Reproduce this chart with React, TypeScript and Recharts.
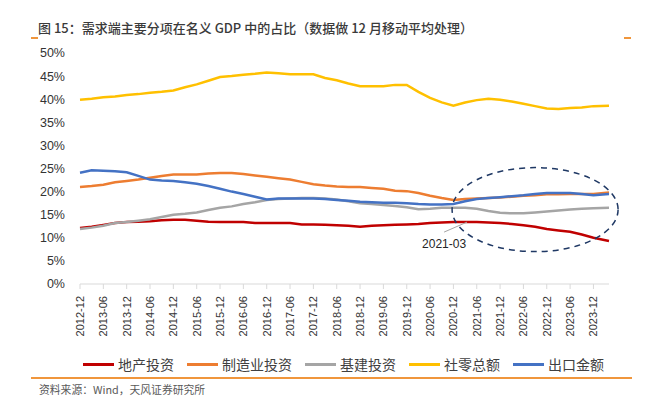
import React from 'react';
import { LineChart, Line, XAxis, YAxis, ReferenceDot } from 'recharts';

// sampled points (12-month moving average), values in %
const periods = [
  '2012-12', '2013-03', '2013-06', '2013-09', '2013-12', '2014-03', '2014-06', '2014-09',
  '2014-12', '2015-03', '2015-06', '2015-09', '2015-12', '2016-03', '2016-06', '2016-09',
  '2016-12', '2017-03', '2017-06', '2017-09', '2017-12', '2018-03', '2018-06', '2018-09',
  '2018-12', '2019-03', '2019-06', '2019-09', '2019-12', '2020-03', '2020-06', '2020-09',
  '2020-12', '2021-03', '2021-06', '2021-09', '2021-12', '2022-03', '2022-06', '2022-09',
  '2022-12', '2023-03', '2023-06', '2023-09', '2023-12', '2024-04',
];

const property = [
  12.1, 12.4, 12.8, 13.2, 13.4, 13.5, 13.6, 13.8, 13.9, 13.9, 13.7, 13.5, 13.4, 13.4, 13.4, 13.2,
  13.2, 13.2, 13.2, 12.9, 12.9, 12.8, 12.7, 12.6, 12.4, 12.6, 12.7, 12.8, 12.9, 13.0, 13.2, 13.3,
  13.4, 13.4, 13.4, 13.3, 13.2, 13.0, 12.7, 12.4, 11.9, 11.6, 11.3, 10.7, 10.0, 9.3,
];
const manufacturing = [
  21.0, 21.2, 21.5, 22.0, 22.3, 22.6, 23.0, 23.4, 23.7, 23.7, 23.7, 23.9, 24.0, 24.0, 23.8, 23.5,
  23.2, 22.9, 22.6, 22.1, 21.6, 21.3, 21.1, 21.0, 21.0, 20.8, 20.6, 20.2, 20.1, 19.7, 19.1, 18.6,
  18.2, 18.4, 18.5, 18.6, 18.7, 18.9, 19.1, 19.2, 19.4, 19.4, 19.5, 19.5, 19.5, 19.8,
];
const infrastructure = [
  11.9, 12.2, 12.6, 13.2, 13.4, 13.7, 14.0, 14.5, 15.0, 15.2, 15.5, 16.0, 16.5, 16.8, 17.3, 17.7,
  18.2, 18.4, 18.5, 18.6, 18.6, 18.5, 18.3, 17.9, 17.5, 17.3, 17.1, 16.9, 16.6, 16.2, 16.3, 16.5,
  16.5, 16.5, 16.3, 15.8, 15.4, 15.3, 15.3, 15.5, 15.7, 15.9, 16.1, 16.3, 16.4, 16.5,
];
const retail = [
  39.9, 40.1, 40.4, 40.6, 40.9, 41.1, 41.4, 41.6, 41.9, 42.6, 43.2, 44.0, 44.8, 45.0, 45.3, 45.5,
  45.8, 45.6, 45.4, 45.4, 45.4, 44.6, 44.1, 43.4, 42.8, 42.8, 42.8, 43.1, 43.1, 41.6, 40.3, 39.3,
  38.6, 39.3, 39.8, 40.1, 39.9, 39.5, 39.0, 38.5, 38.0, 37.9, 38.1, 38.2, 38.5, 38.6,
];
const exports = [
  24.1, 24.6, 24.5, 24.4, 24.2, 23.4, 22.6, 22.4, 22.3, 22.0, 21.7, 21.2, 20.6, 20.0, 19.5, 18.9,
  18.3, 18.5, 18.5, 18.5, 18.5, 18.4, 18.2, 18.0, 17.8, 17.7, 17.6, 17.6, 17.5, 17.3, 17.2, 17.2,
  17.3, 17.9, 18.4, 18.6, 18.8, 19.0, 19.2, 19.5, 19.7, 19.7, 19.7, 19.5, 19.2, 19.5,
];

const tickLabels = [
  '2012-12', '2013-06', '2013-12', '2014-06', '2014-12', '2015-06', '2015-12', '2016-06',
  '2016-12', '2017-06', '2017-12', '2018-06', '2018-12', '2019-06', '2019-12', '2020-06',
  '2020-12', '2021-06', '2021-12', '2022-06', '2022-12', '2023-06', '2023-12',
];
const yTicks = [0, 5, 10, 15, 20, 25, 30, 35, 40, 45, 50];

const series = [
  { key: 'property', name: '地产投资', color: '#C00000', values: property },
  { key: 'manufacturing', name: '制造业投资', color: '#ED7D31', values: manufacturing },
  { key: 'infrastructure', name: '基建投资', color: '#A5A5A5', values: infrastructure },
  { key: 'retail', name: '社零总额', color: '#FFC000', values: retail },
  { key: 'exports', name: '出口金额', color: '#4472C4', values: exports },
];

// months since 2012-12
const toIdx = (p: string) => {
  const [y, m] = p.split('-').map(Number);
  return (y - 2012) * 12 + m - 12;
};
const lastIdx = toIdx(periods[periods.length - 1]);

const data = periods.map((p, i) => {
  const row: Record<string, number | string> = { idx: toIdx(p), period: p };
  series.forEach((s) => {
    row[s.key] = s.values[i];
  });
  return row;
});

const markPeriod = '2021-03';
const markIdx = toIdx(markPeriod);
const markValue = property[periods.indexOf(markPeriod)];

const CJK = '"Noto Sans CJK SC", "Noto Sans", sans-serif';
const NUM = '"Liberation Sans", Arial, sans-serif';
const ORANGE = '#F0963C';

const XTick = (props: any) => {
  const { x, y, payload } = props;
  const label = tickLabels.find((t) => toIdx(t) === payload.value) || '';
  return (
    <text
      x={x}
      y={y}
      transform={`rotate(-90 ${x} ${y})`}
      textAnchor="end"
      dominantBaseline="central"
      fontSize={11}
      fontFamily={NUM}
      fill="#333"
    >
      {label}
    </text>
  );
};

const App: React.FC = () => {
  return (
    <div style={{ position: 'absolute', left: 0, top: 0, width: 647, height: 399, background: '#fff', fontFamily: CJK }}>
      <div style={{ position: 'absolute', left: 38, top: 18, fontSize: 13, fontWeight: 500, color: '#3a3a3a', whiteSpace: 'nowrap' }}>
        图 15：需求端主要分项在名义 GDP 中的占比（数据做 12 月移动平均处理）
      </div>
      <div style={{ position: 'absolute', left: 31, top: 37, width: 7, height: 2, background: ORANGE }} />
      <div style={{ position: 'absolute', left: 624, top: 37, width: 7, height: 2, background: ORANGE }} />

      <div style={{ position: 'absolute', left: 0, top: 0 }}>
        <LineChart width={647} height={345} data={data} margin={{ top: 53, right: 38, bottom: 6, left: 0 }}>
          <XAxis
            dataKey="idx"
            type="number"
            domain={[0, lastIdx]}
            ticks={tickLabels.map(toIdx)}
            interval={0}
            height={55}
            stroke="#D9D9D9"
            tickSize={5}
            tickMargin={7}
            tick={<XTick />}
          />
          <YAxis
            domain={[0, 50]}
            ticks={yTicks}
            width={80}
            axisLine={false}
            tickLine={false}
            tickSize={0}
            tickMargin={15}
            tickFormatter={(v: number) => `${v}%`}
            tick={{ fontSize: 12.5, fontFamily: NUM, fill: '#333' }}
          />
          {series.map((s) => (
            <Line
              key={s.key}
              type="linear"
              dataKey={s.key}
              name={s.name}
              stroke={s.color}
              strokeWidth={2.5}
              dot={false}
              isAnimationActive={false}
            />
          ))}
          <ReferenceDot
            x={117}
            y={16.1}
            r={0}
            shape={(p: any) => (
              <ellipse cx={p.cx} cy={p.cy} rx={83} ry={42} fill="none" stroke="#1F3864" strokeWidth={1.5} strokeDasharray="6 5" />
            )}
          />
          <ReferenceDot
            x={markIdx}
            y={markValue}
            r={0}
            shape={(p: any) => (
              <g>
                <line x1={p.cx + 2} y1={p.cy} x2={p.cx - 21} y2={p.cy + 10} stroke="#A5A5A5" strokeWidth={1} />
                <text x={p.cx - 21} y={p.cy + 22} textAnchor="middle" dominantBaseline="central" fontSize={12} fontFamily={NUM} fill="#262626">
                  {markPeriod}
                </text>
              </g>
            )}
          />
        </LineChart>
      </div>

      <div style={{ position: 'absolute', left: 83, top: 354, display: 'flex', alignItems: 'center', whiteSpace: 'nowrap' }}>
        {series.map((s) => (
          <div key={s.key} style={{ display: 'flex', alignItems: 'center', marginRight: 13 }}>
            <div style={{ width: 31, height: 3, background: s.color, marginRight: 4 }} />
            <span style={{ fontSize: 14, color: '#404040' }}>{s.name}</span>
          </div>
        ))}
      </div>

      <div style={{ position: 'absolute', left: 31, top: 377, width: 601, height: 2, background: ORANGE }} />
      <div style={{ position: 'absolute', left: 39, top: 381, fontSize: 10.8, color: '#595959', whiteSpace: 'nowrap' }}>
        资料来源：Wind，天风证券研究所
      </div>
    </div>
  );
};

export default App;
